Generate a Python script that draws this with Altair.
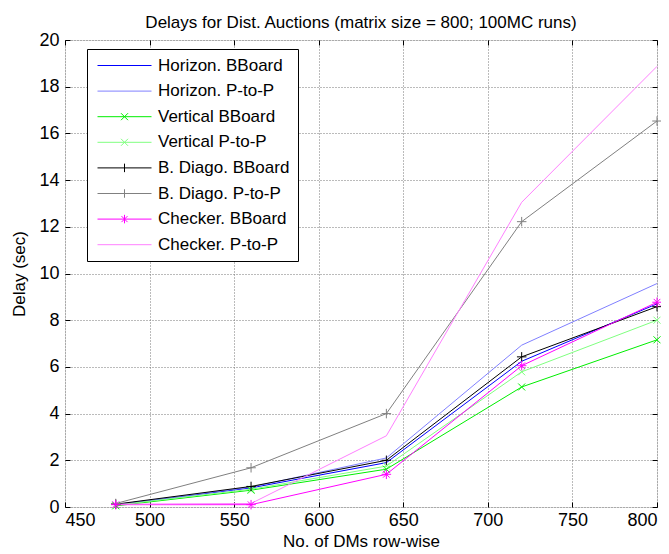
import altair as alt
import pandas as pd

# ---- data ----
dms = [480, 560, 640, 720, 800]
series_names = [
    "Horizon. BBoard", "Horizon. P-to-P",
    "Vertical BBoard", "Vertical P-to-P",
    "B. Diago. BBoard", "B. Diago. P-to-P",
    "Checker. BBoard", "Checker. P-to-P",
]
horizon_bb = [0.10, 0.82, 1.90, 6.24, 8.70]
horizon_p2p = [0.10, 0.85, 2.10, 6.93, 9.57]
vertical_bb = [0.05, 0.72, 1.62, 5.14, 7.16]
vertical_p2p = [0.08, 0.76, 1.75, 5.79, 8.00]
diago_bb = [0.12, 0.88, 2.00, 6.43, 8.58]
diago_p2p = [0.15, 1.68, 4.00, 12.22, 16.53]
checker_bb = [0.10, 0.10, 1.40, 6.05, 8.77]
checker_p2p = [0.12, 0.15, 3.05, 13.05, 18.87]
x_ticks = [450, 500, 550, 600, 650, 700, 750, 800]
y_ticks = [0, 2, 4, 6, 8, 10, 12, 14, 16, 18, 20]

# ---- styles ----
colors = ["#0000ff", "#8080ff", "#00ee00", "#80ff80",
          "#000000", "#808080", "#ff00ff", "#ff80ff"]
marker_of = {
    "Vertical BBoard": "x", "Vertical P-to-P": "x",
    "B. Diago. BBoard": "plus", "B. Diago. P-to-P": "plus",
    "Checker. BBoard": "star",
}
all_values = [horizon_bb, horizon_p2p, vertical_bb, vertical_p2p,
              diago_bb, diago_p2p, checker_bb, checker_p2p]
rows = []
for name, vals in zip(series_names, all_values):
    for xv, yv in zip(dms, vals):
        rows.append({"x": xv, "y": yv, "series": name,
                     "marker": marker_of.get(name, "none")})
df = pd.DataFrame(rows)

W, H = 592, 467
FONT = "Liberation Sans"

xscale = alt.Scale(domain=[450, 800], nice=False, zero=False)
yscale = alt.Scale(domain=[0, 20], nice=False)

# legend symbol paths (line sample + marker), symbolSize 100 -> 5px per unit
line_p = "M-1.2,0L9.6,0"
leg_paths = {
    "x": line_p + "M3.5,-0.7L4.9,0.7M3.5,0.7L4.9,-0.7",
    "plus": line_p + "M4.2,-0.85L4.2,0.85",
    "star": line_p + "M4.2,-0.85L4.2,0.85M3.6,-0.6L4.8,0.6M3.6,0.6L4.8,-0.6",
    "none": line_p,
}
shape_range = [leg_paths[marker_of.get(n, "none")] for n in series_names]

legend = alt.Legend(
    title=None, orient="none", legendX=22, legendY=9,
    direction="vertical",
    fillColor="white", strokeColor="black",
    padding=8, cornerRadius=0,
    symbolSize=100, symbolStrokeWidth=1, symbolFillColor="transparent",
    symbolOpacity=1,
    labelFont=FONT, labelFontSize=17, labelColor="black",
    labelOffset=46, rowPadding=7.6, labelLimit=300,
)
color = alt.Color("series:N", scale=alt.Scale(domain=series_names, range=colors),
                  legend=legend)

base = alt.Chart(df)

lab = dict(labelFont=FONT, labelFontSize=18, labelColor="black",
           titleFont=FONT, titleFontSize=17, titleFontWeight="normal",
           titleColor="black",
           gridColor="#777777", gridDash=[1, 2], gridWidth=1, gridOpacity=1)

lines = base.mark_line(strokeWidth=1).encode(
    x=alt.X("x:Q", scale=xscale, title="No. of DMs row-wise",
            axis=alt.Axis(orient="bottom", values=x_ticks, ticks=False, domain=False,
                          grid=True, labelPadding=4, titlePadding=4, **lab)),
    y=alt.Y("y:Q", scale=yscale, title="Delay (sec)",
            axis=alt.Axis(orient="left", values=y_ticks, ticks=False, domain=False,
                          grid=True, labelPadding=6, titlePadding=10, **lab)),
    color=color,
    order=alt.Order("x:Q"),
)

tick_axis = dict(labels=False, ticks=True, tickSize=5, domain=False, grid=False,
                 title=None, tickColor="black", tickWidth=1)

m_x = base.transform_filter("datum.marker == 'x'").mark_point(
    shape="M-1,-1L1,1M-1,1L1,-1", size=49, filled=False, strokeWidth=1, opacity=1
).encode(
    x=alt.X("x:Q", scale=xscale,
            axis=alt.Axis(orient="top", offset=-H, values=x_ticks, **tick_axis)),
    y=alt.Y("y:Q", scale=yscale,
            axis=alt.Axis(orient="right", offset=-W, values=y_ticks, **tick_axis)),
    color=color,
)
m_plus = base.transform_filter("datum.marker == 'plus'").mark_point(
    shape="M-1,0L1,0M0,-1L0,1", size=90, filled=False, strokeWidth=1, opacity=1
).encode(
    x=alt.X("x:Q", scale=xscale,
            axis=alt.Axis(orient="bottom", offset=-H, values=x_ticks, **tick_axis)),
    y=alt.Y("y:Q", scale=yscale,
            axis=alt.Axis(orient="left", offset=-W, values=y_ticks, **tick_axis)),
    color=color,
)
m_star = base.transform_filter("datum.marker == 'star'").mark_point(
    shape="M-1,0L1,0M0,-1L0,1M-0.7,-0.7L0.7,0.7M-0.7,0.7L0.7,-0.7",
    size=90, filled=False, strokeWidth=1, opacity=1
).encode(
    x=alt.X("x:Q", scale=xscale, axis=None),
    y=alt.Y("y:Q", scale=yscale, axis=None),
    color=color,
)
# invisible layer that only carries the legend symbols (shape per series)
leg_layer = base.mark_point(filled=False, opacity=0).encode(
    x=alt.X("x:Q", scale=xscale, axis=None),
    y=alt.Y("y:Q", scale=yscale, axis=None),
    color=color,
    shape=alt.Shape("series:N", scale=alt.Scale(domain=series_names, range=shape_range),
                    legend=legend),
)

chart = alt.layer(lines, m_x, m_plus, m_star, leg_layer).resolve_axis(
    x="independent", y="independent"
).properties(
    width=W, height=H,
    title=alt.TitleParams("Delays for Dist. Auctions (matrix size = 800; 100MC runs)",
                          font=FONT, fontSize=17, fontWeight="normal", color="black",
                          anchor="middle", baseline="alphabetic", offset=0, dy=14),
    autosize=alt.AutoSizeParams(type="none"),
    padding={"left": 57, "top": 32, "right": 4, "bottom": 46},
).configure_view(
    stroke="black", strokeWidth=1.5
).configure(background="white")

chart.save("out.html", embed_options={"renderer": "svg", "actions": False})
